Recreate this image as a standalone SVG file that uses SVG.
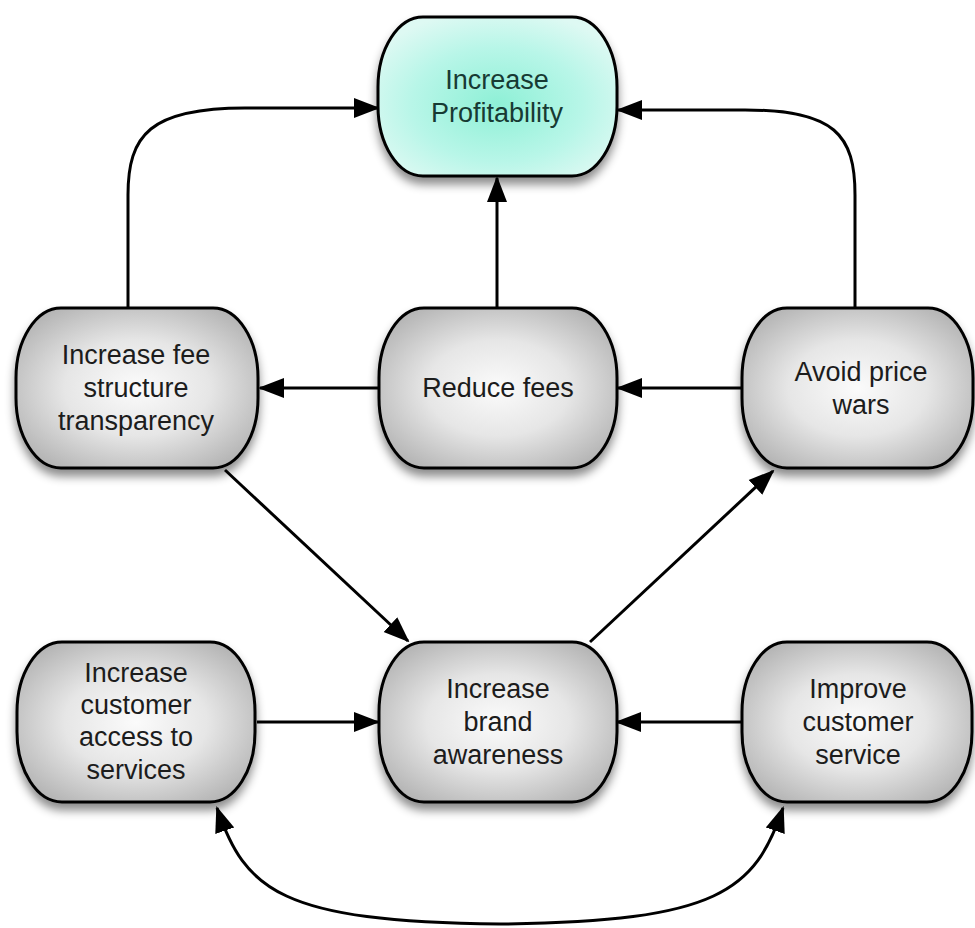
<svg xmlns="http://www.w3.org/2000/svg" width="975" height="928" viewBox="0 0 975 928">
<defs>
<radialGradient id="gGrey" cx="50%" cy="50%" r="60%">
<stop offset="0" stop-color="#fbfbfb"/>
<stop offset="0.5" stop-color="#e6e6e6"/>
<stop offset="1" stop-color="#b4b4b4"/>
</radialGradient>
<radialGradient id="gTeal" cx="50%" cy="55%" r="60%">
<stop offset="0" stop-color="#8ef0d6"/>
<stop offset="0.6" stop-color="#b8f6e8"/>
<stop offset="1" stop-color="#def9f3"/>
</radialGradient>
<filter id="shadow" x="-20%" y="-20%" width="140%" height="150%">
<feDropShadow dx="0" dy="7" stdDeviation="5" flood-color="#000" flood-opacity="0.45"/>
</filter>
<marker id="arrow" markerUnits="userSpaceOnUse" markerWidth="26" markerHeight="22" refX="24" refY="11" orient="auto-start-reverse" viewBox="0 0 26 22">
<path d="M0,1 L26,11 L0,21 Z" fill="#000"/>
</marker>
<style>
.node rect{stroke:#000;stroke-width:3;filter:url(#shadow)}
.grey rect{fill:url(#gGrey)}
.teal rect{fill:url(#gTeal)}
.node text{font-family:"Liberation Sans",Arial,Helvetica,sans-serif;font-size:27px;text-anchor:middle;fill:#1c1c1c}
.teal text{fill:#173a33}
.conn path{fill:none;stroke:#000;stroke-width:3;marker-end:url(#arrow)}
</style>
</defs>
<rect width="975" height="928" fill="#fff"/>
<g id="connectors" class="conn">
<path d="M128,308 V195 C128,135 150,108 245,108 H378"/>
<path d="M855,308 V195 C855,135 835,110 745,110 H618"/>
<path d="M497,308 V178"/>
<path d="M379,388 H260"/>
<path d="M742,388 H618"/>
<path d="M225,470 L408,641"/>
<path d="M590,642 L773,471"/>
<path d="M257,722 H378"/>
<path d="M742,722 H617"/>
<path d="M500,924 C720,922 755,890 783,808" style="marker-start:none"/>
<path d="M500,924 C280,922 245,890 217,808"/>
</g>
<g id="n_profit" class="node teal">
<rect x="378" y="17" width="239" height="159" rx="45" ry="70"/>
<text x="497" y="89">Increase</text>
<text x="497" y="122">Profitability</text>
</g>
<g id="n_transparency" class="node grey">
<rect x="16" y="308" width="242" height="160" rx="45" ry="70"/>
<text x="136" y="364">Increase fee</text>
<text x="136" y="397">structure</text>
<text x="136" y="430">transparency</text>
</g>
<g id="n_reduce" class="node grey">
<rect x="379" y="308" width="238" height="160" rx="45" ry="70"/>
<text x="498" y="397">Reduce fees</text>
</g>
<g id="n_avoid" class="node grey">
<rect x="742" y="308" width="231" height="160" rx="45" ry="70"/>
<text x="861" y="381">Avoid price</text>
<text x="861" y="414">wars</text>
</g>
<g id="n_access" class="node grey">
<rect x="17" y="642" width="238" height="160" rx="45" ry="70"/>
<text x="136" y="682">Increase</text>
<text x="136" y="714">customer</text>
<text x="136" y="746">access to</text>
<text x="136" y="779">services</text>
</g>
<g id="n_brand" class="node grey">
<rect x="379" y="642" width="238" height="160" rx="45" ry="70"/>
<text x="498" y="698">Increase</text>
<text x="498" y="731">brand</text>
<text x="498" y="764">awareness</text>
</g>
<g id="n_service" class="node grey">
<rect x="742" y="642" width="230" height="160" rx="45" ry="70"/>
<text x="858" y="698">Improve</text>
<text x="858" y="731">customer</text>
<text x="858" y="764">service</text>
</g>
</svg>
